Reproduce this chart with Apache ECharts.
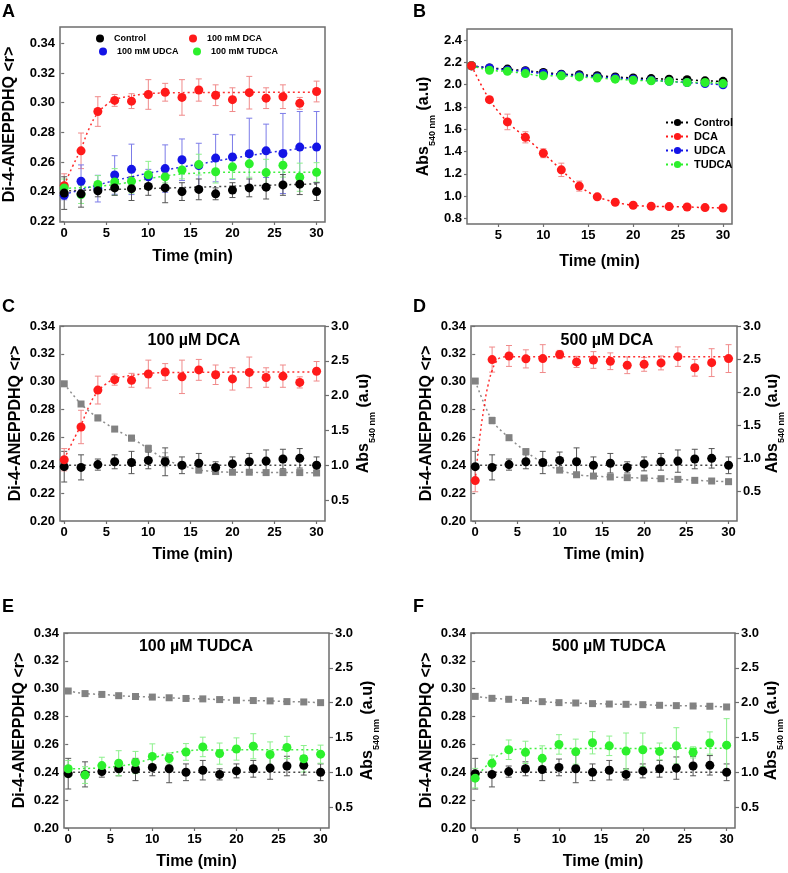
<!DOCTYPE html>
<html><head><meta charset="utf-8">
<script src="https://cdn.jsdelivr.net/npm/echarts@6/dist/echarts.min.js"></script>
<style>html,body{margin:0;padding:0;background:#fff}#c{width:788px;height:873px}</style>
</head><body><div id="c"></div>
<script>
// ---------- data ----------
const time = [0,2,4,6,8,10,12,14,16,18,20,22,24,26,28,30];
const timeB = [2,4,6,8,10,12,14,16,18,20,22,24,26,28,30];

// Di-4-ANEPPDHQ anisotropy, shared control
const control    = [0.239,0.2385,0.2405,0.2425,0.242,0.2435,0.2425,0.240,0.2415,0.2385,0.241,0.2425,0.243,0.2445,0.245,0.240];
const controlErr = [0.011,0.009,0.004,0.005,0.008,0.006,0.010,0.006,0.007,0.004,0.005,0.006,0.008,0.007,0.007,0.006];
// 100 DCA
const dca100    = [0.244,0.2675,0.294,0.3015,0.301,0.3055,0.307,0.3035,0.3085,0.305,0.302,0.3067,0.303,0.304,0.2995,0.3075];
const dca100Err = [0.008,0.012,0.010,0.004,0.005,0.010,0.006,0.012,0.0075,0.007,0.008,0.011,0.007,0.008,0.004,0.007];
// 100 UDCA
const udca100    = [0.2375,0.247,0.242,0.2512,0.255,0.250,0.2555,0.2615,0.2576,0.2626,0.2633,0.2655,0.2675,0.2657,0.270,0.270];
const udca100Err = [0.003,0.011,0.009,0.013,0.017,0.005,0.016,0.014,0.015,0.016,0.015,0.024,0.018,0.027,0.024,0.024];
// 100 TUDCA
const tudca100    = [0.2425,0.238,0.2448,0.2465,0.247,0.2514,0.2499,0.2546,0.2582,0.2534,0.2567,0.2587,0.2528,0.2578,0.2497,0.253];
const tudca100Err = [0.006,0.006,0.006,0.009,0.008,0.009,0.004,0.006,0.007,0.0076,0.008,0.009,0.009,0.008,0.0095,0.0065];
// 500 DCA
const dca500    = [0.229,0.3159,0.3185,0.3164,0.3166,0.3195,0.3142,0.3156,0.3147,0.3118,0.3125,0.3135,0.318,0.310,0.3137,0.3166];
const dca500Err = [0.008,0.009,0.0075,0.0065,0.010,0.003,0.004,0.006,0.006,0.006,0.005,0.005,0.007,0.006,0.010,0.010];
// 500 TUDCA
const tudca500    = [0.2358,0.2464,0.2562,0.2543,0.250,0.260,0.2548,0.2612,0.259,0.2552,0.2562,0.255,0.259,0.2543,0.261,0.2595];
const tudca500Err = [0.007,0.006,0.007,0.008,0.009,0.007,0.009,0.008,0.007,0.013,0.012,0.006,0.013,0.004,0.008,0.019];

// Absorbance at 540 nm (panel B)
const absControl = [2.17,2.15,2.14,2.125,2.11,2.095,2.09,2.08,2.07,2.06,2.055,2.05,2.045,2.035,2.03];
const absDca     = [2.17,1.866,1.666,1.528,1.385,1.236,1.09,0.994,0.945,0.918,0.909,0.906,0.903,0.897,0.894];
const absUdca    = [2.17,2.15,2.13,2.12,2.10,2.09,2.08,2.07,2.06,2.05,2.04,2.03,2.02,2.01,2.00];
const absTudca   = [2.17,2.13,2.12,2.10,2.08,2.08,2.07,2.06,2.05,2.04,2.035,2.03,2.02,2.02,2.01];
const absDcaErr  = [0.01,0.02,0.07,0.05,0.04,0.06,0.045,0.02,0.015,0.015,0.01,0.01,0.01,0.01,0.01];
const absOtherErr= [0.01,0.01,0.01,0.01,0.01,0.01,0.01,0.01,0.01,0.01,0.01,0.01,0.01,0.01,0.01];

// Absorbance in panels C-F (grey squares, right axis)
const absDca100     = [2.17,1.88,1.68,1.52,1.39,1.24,1.08,1.00,0.935,0.91,0.90,0.90,0.895,0.895,0.895,0.89];
const absDca100Err  = [0.02,0.03,0.04,0.03,0.04,0.05,0.10,0.04,0.03,0.02,0.02,0.02,0.02,0.02,0.02,0.02];
const absDca500     = [2.167,1.57,1.31,1.10,0.93,0.82,0.75,0.73,0.716,0.706,0.70,0.69,0.68,0.665,0.655,0.645];
const absDca500Err  = [0.03,0.05,0.04,0.04,0.05,0.03,0.03,0.03,0.03,0.03,0.02,0.02,0.02,0.02,0.02,0.02];
const absTudca100   = [2.167,2.13,2.118,2.10,2.088,2.08,2.07,2.06,2.054,2.044,2.034,2.03,2.025,2.015,2.01,2.0];
const absTudca500   = [2.09,2.062,2.048,2.03,2.014,2.0,1.995,1.986,1.98,1.976,1.971,1.962,1.957,1.952,1.948,1.938];
const absSmallErr   = [0.015,0.015,0.015,0.015,0.015,0.015,0.015,0.015,0.015,0.015,0.015,0.015,0.015,0.015,0.015,0.015];

// fitted curves (as [time, value])
const fitControlA = [[0,0.2405],[30,0.2452]];
const fitControl  = [[0,0.240],[30,0.240]];
const fitDca100   = [[0,0.2445],[1,0.257],[2,0.269],[3,0.283],[4,0.293],[5,0.2985],[6,0.302],[8,0.3045],[10,0.306],[12,0.3065],[16,0.3068],[30,0.307]];
const fitUdca100  = [[0,0.238],[4,0.2445],[8,0.250],[12,0.2545],[16,0.2585],[20,0.2625],[24,0.266],[28,0.269],[30,0.2705]];
const fitTudcaA   = [[0,0.2422],[4,0.2435],[8,0.2465],[12,0.2505],[16,0.2525],[20,0.253],[30,0.253]];
const fitTudcaE   = [[0,0.2425],[4,0.2432],[6,0.2445],[8,0.2465],[10,0.250],[12,0.2535],[14,0.2553],[16,0.256],[30,0.2562]];
const fitDca500   = [[0,0.229],[0.5,0.258],[1,0.28],[1.5,0.297],[2,0.308],[2.5,0.3145],[3,0.3172],[4,0.318],[30,0.318]];
const fitTudca500 = [[0,0.2358],[1,0.2425],[2,0.2485],[3,0.253],[4,0.2555],[5,0.2565],[6,0.257],[30,0.2572]];

// ticks
const xTicks  = [0,5,10,15,20,25,30];
const xTicksB = [5,10,15,20,25,30];
const yTicksA = [0.22,0.24,0.26,0.28,0.30,0.32,0.34];
const yTicksB = [0.8,1.0,1.2,1.4,1.6,1.8,2.0,2.2,2.4];
const yTicksL = [0.20,0.22,0.24,0.26,0.28,0.30,0.32,0.34];
const yTicksR = [0.5,1.0,1.5,2.0,2.5,3.0];

// ---------- style ----------
const FONT = '"Liberation Sans", Arial, sans-serif';
const RED='#ff1a1a', BLUE='#1414e6', GREEN='#2cf02c', BLACK='#000000', GRAY='#828282';
const eRED='#f08a8a', eBLUE='#7c7ce8', eGREEN='#8cf08c', eBLACK='#555555', eGRAY='#a8a8a8';
const FRAME='#6e6e6e';

const pts = (xs, ys) => xs.map((x,i)=>[x, ys[i]]);
const errs = (xs, ys, es) => xs.map((x,i)=>[x, ys[i]-es[i], ys[i]+es[i]]);

function errSeries(xi, yi, data, color){
  return {type:'custom', xAxisIndex:xi, yAxisIndex:yi, data, encode:{x:0,y:[1,2]}, z:1, silent:true,
    renderItem:(params, api)=>{
      const x = api.value(0);
      const a = api.coord([x, api.value(1)]), b = api.coord([x, api.value(2)]);
      const w = 3, st = {stroke:color, lineWidth:1};
      return {type:'group', children:[
        {type:'line', shape:{x1:a[0],y1:a[1],x2:b[0],y2:b[1]}, style:st},
        {type:'line', shape:{x1:a[0]-w,y1:a[1],x2:a[0]+w,y2:a[1]}, style:st},
        {type:'line', shape:{x1:b[0]-w,y1:b[1],x2:b[0]+w,y2:b[1]}, style:st}
      ]};
    }};
}
function scat(name, xi, yi, data, color, symbol, size){
  return {type:'scatter', name, xAxisIndex:xi, yAxisIndex:yi, data, symbol:symbol||'circle', symbolSize:size||9,
    itemStyle:{color, opacity:1}, z:3, silent:true};
}
function fit(xi, yi, data, color, smooth){
  return {type:'line', xAxisIndex:xi, yAxisIndex:yi, data, symbol:'none', showSymbol:false, smooth: smooth==null?0.5:smooth,
    lineStyle:{type:[2,3], width:1.5, color, opacity:0.9}, z:2, silent:true};
}
function bLine(name, data, color){
  return {type:'line', name, xAxisIndex:1, yAxisIndex:1, data, symbol:'circle', symbolSize:9, showSymbol:true,
    smooth:0.3, itemStyle:{color}, lineStyle:{type:[2,3], width:1.5, color}, z:3, silent:true};
}

const labelStyle = {fontFamily:FONT, fontWeight:'bold', fontSize:13, color:'#000'};
const nameStyle = {fontFamily:FONT, fontWeight:'bold', fontSize:16, color:'#000'};
const absName = '{a|Abs}{s|540 nm}{a| (a.u)}';
const absRich = {
  a:{fontFamily:FONT, fontWeight:'bold', fontSize:16, color:'#000', lineHeight:26},
  s:{fontFamily:FONT, fontWeight:'bold', fontSize:9, color:'#000', verticalAlign:'bottom', lineHeight:26}
};

function xAx(gi, min, max, ticks, gap){
  return {gridIndex:gi, type:'value', min, max, name:'Time (min)', nameLocation:'middle', nameGap:gap,
    nameTextStyle:nameStyle, axisLine:{show:false},
    axisTick:{show:true, customValues:ticks, length:3, lineStyle:{color:FRAME, width:1.2}},
    axisLabel:{customValues:ticks, margin:5, ...labelStyle}, splitLine:{show:false}};
}
function yAxL(gi, min, max, ticks, dec, name, gap, rich){
  return {gridIndex:gi, type:'value', position:'left', min, max, name, nameLocation:'middle', nameGap:gap, nameRotate:90,
    nameTextStyle: rich ? {rich} : nameStyle, axisLine:{show:false},
    axisTick:{show:true, customValues:ticks, length:3, lineStyle:{color:FRAME, width:1.2}},
    axisLabel:{customValues:ticks, margin:5, formatter:v=>v.toFixed(dec), ...labelStyle}, splitLine:{show:false}};
}
function yAxR(gi, min, gap){
  return {gridIndex:gi, type:'value', position:'right', min, max:3.0, name:absName, nameLocation:'middle', nameGap:gap, nameRotate:90,
    nameTextStyle:{rich:absRich}, axisLine:{show:false},
    axisTick:{show:true, customValues:yTicksR, length:4, lineStyle:{color:FRAME, width:1.2}},
    axisLabel:{customValues:yTicksR, margin:6, formatter:v=>v.toFixed(1), ...labelStyle}, splitLine:{show:false}};
}
const gridBase = {show:true, borderColor:FRAME, borderWidth:1.5, backgroundColor:'transparent'};

const grids = [
  {left:60, top:27, width:265, height:195},
  {left:467, top:29, width:265, height:195},
  {left:60, top:326, width:265, height:195},
  {left:471, top:326, width:266, height:195},
  {left:64, top:633, width:265, height:195},
  {left:471, top:633, width:264, height:195}
].map(g=>Object.assign({}, gridBase, g));

const xAxes = [
  xAx(0,-0.5,31,xTicks,27), xAx(1,1.5,31,xTicksB,30), xAx(2,-0.5,31,xTicks,26),
  xAx(3,-0.5,31,xTicks,26), xAx(4,-0.5,31,xTicks,26), xAx(5,-0.5,31,xTicks,26)
];
const yName = 'Di-4-ANEPPDHQ <r>';
const yAxes = [
  yAxL(0,0.2195,0.351,yTicksA,2,yName,42),
  yAxL(1,0.75,2.5,yTicksB,1,absName,30,absRich),
  yAxL(2,0.20,0.34,yTicksL,2,yName,36), yAxR(2,0.2,26),
  yAxL(3,0.20,0.34,yTicksL,2,yName,36), yAxR(3,0.05,22),
  yAxL(4,0.20,0.34,yTicksL,2,yName,36), yAxR(4,0.2,26),
  yAxL(5,0.20,0.34,yTicksL,2,yName,36), yAxR(5,0.2,24)
];

const series = [
  // A
  errSeries(0,0,errs(time,dca100,dca100Err),eRED),
  errSeries(0,0,errs(time,udca100,udca100Err),eBLUE),
  errSeries(0,0,errs(time,tudca100,tudca100Err),eGREEN),
  errSeries(0,0,errs(time,control,controlErr),eBLACK),
  fit(0,0,fitDca100,RED), fit(0,0,fitUdca100,BLUE), fit(0,0,fitTudcaA,GREEN), fit(0,0,fitControlA,'#333'),
  scat('A_100 mM DCA',0,0,pts(time,dca100),RED),
  scat('A_100 mM UDCA',0,0,pts(time,udca100),BLUE),
  scat('A_100 mM TUDCA',0,0,pts(time,tudca100),GREEN),
  scat('A_Control',0,0,pts(time,control),BLACK),
  // B
  errSeries(1,1,errs(timeB,absControl,absOtherErr),eBLACK),
  errSeries(1,1,errs(timeB,absUdca,absOtherErr),eBLUE),
  errSeries(1,1,errs(timeB,absTudca,absOtherErr),eGREEN),
  errSeries(1,1,errs(timeB,absDca,absDcaErr),eRED),
  bLine('Control',pts(timeB,absControl),BLACK),
  bLine('UDCA',pts(timeB,absUdca),BLUE),
  bLine('TUDCA',pts(timeB,absTudca),GREEN),
  bLine('DCA',pts(timeB,absDca),RED),
  // C
  errSeries(2,3,errs(time,absDca100,absDca100Err),eGRAY),
  fit(2,3,pts(time,absDca100),GRAY,0.3),
  scat('C_abs',2,3,pts(time,absDca100),GRAY,'rect',7),
  errSeries(2,2,errs(time,control,controlErr),eBLACK),
  errSeries(2,2,errs(time,dca100,dca100Err),eRED),
  fit(2,2,fitControl,'#333'), fit(2,2,fitDca100,RED),
  scat('C_ctrl',2,2,pts(time,control),BLACK),
  scat('C_dca',2,2,pts(time,dca100),RED),
  // D
  errSeries(3,5,errs(time,absDca500,absDca500Err),eGRAY),
  fit(3,5,pts(time,absDca500),GRAY,0.3),
  scat('D_abs',3,5,pts(time,absDca500),GRAY,'rect',7),
  errSeries(3,4,errs(time,control,controlErr),eBLACK),
  errSeries(3,4,errs(time,dca500,dca500Err),eRED),
  fit(3,4,fitControl,'#333'), fit(3,4,fitDca500,RED),
  scat('D_ctrl',3,4,pts(time,control),BLACK),
  scat('D_dca',3,4,pts(time,dca500),RED),
  // E
  errSeries(4,7,errs(time,absTudca100,absSmallErr),eGRAY),
  fit(4,7,pts(time,absTudca100),GRAY,0.3),
  scat('E_abs',4,7,pts(time,absTudca100),GRAY,'rect',7),
  errSeries(4,6,errs(time,control,controlErr),eBLACK),
  errSeries(4,6,errs(time,tudca100,tudca100Err),eGREEN),
  fit(4,6,fitControl,'#333'), fit(4,6,fitTudcaE,GREEN),
  scat('E_ctrl',4,6,pts(time,control),BLACK),
  scat('E_tudca',4,6,pts(time,tudca100),GREEN),
  // F
  errSeries(5,9,errs(time,absTudca500,absSmallErr),eGRAY),
  fit(5,9,pts(time,absTudca500),GRAY,0.3),
  scat('F_abs',5,9,pts(time,absTudca500),GRAY,'rect',7),
  errSeries(5,8,errs(time,control,controlErr),eBLACK),
  errSeries(5,8,errs(time,tudca500,tudca500Err),eGREEN),
  fit(5,8,fitControl,'#333'), fit(5,8,fitTudca500,GREEN),
  scat('F_ctrl',5,8,pts(time,control),BLACK),
  scat('F_tudca',5,8,pts(time,tudca500),GREEN)
];

const legA = (name, left, top) => ({data:[{name, icon:'circle'}], left, top, itemWidth:18, itemHeight:8,
  selectedMode:false, formatter:n=>n.slice(2), textStyle:{fontFamily:FONT, fontWeight:'bold', fontSize:9, color:'#000'}});
const legends = [
  legA('A_Control',91,29), legA('A_100 mM DCA',184,29),
  legA('A_100 mM UDCA',94,42), legA('A_100 mM TUDCA',188,42),
  {data:['Control','DCA','UDCA','TUDCA'], orient:'vertical', left:660, top:112, itemWidth:23, itemHeight:9, itemGap:3,
   selectedMode:false, textStyle:{fontFamily:FONT, fontWeight:'bold', fontSize:11, color:'#000'}}
];

const letters = [['A',2,12.5],['B',413,12],['C',2,307],['D',413,307],['E',2,607],['F',413,607]];
const titles = [['100 µM DCA',194,341],['500 µM DCA',607,341],['100 µM TUDCA',196,647],['500 µM TUDCA',609,647]];
const graphic = [
  ...letters.map(([t,x,y])=>({type:'text', style:{text:t, x, y, font:'bold 18px '+FONT, fill:'#000',
     textAlign:'left', textVerticalAlign:'middle', align:'left', verticalAlign:'middle'}})),
  ...titles.map(([t,x,y])=>({type:'text', style:{text:t, x, y, font:'bold 16px '+FONT, fill:'#000',
     textAlign:'center', textVerticalAlign:'middle', align:'center', verticalAlign:'middle'}}))
];

const chart = echarts.init(document.getElementById('c'), null, {renderer:'canvas'});
chart.setOption({animation:false, backgroundColor:'#fff', grid:grids, xAxis:xAxes, yAxis:yAxes,
  legend:legends, series, graphic});
</script></body></html>
